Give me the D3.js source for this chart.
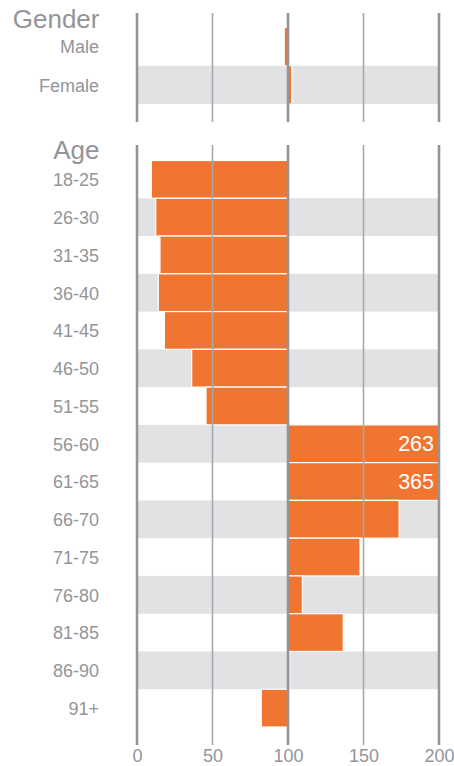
<!DOCTYPE html>
<html><head><meta charset="utf-8">
<script src="https://cdn.jsdelivr.net/npm/d3@7"></script>
<style>body{margin:0;background:#fff}svg{display:block;font-family:"Liberation Sans",Arial,sans-serif}</style>
</head><body><svg id="c" width="454" height="766"></svg>
<script>
const genderCats = ["Male","Female"];
const genderVals = [97.5,102.5];
const ageCats = ["18-25","26-30","31-35","36-40","41-45","46-50","51-55","56-60","61-65","66-70","71-75","76-80","81-85","86-90","91+"];
const ageVals = [9.5,12.4,15.2,14.1,18.1,36.2,45.7,263,365,173.6,147.7,109.5,136.6,101.2,82.3];
const ticks = [0,50,100,150,200];
const baseline = 100;

const svg = d3.select("#c");
const x = d3.scaleLinear().domain([0,200]).range([137,439]);
const orange = "#f07530", band = "#e1e2e4", text = "#939598";

function panel(title, cats, vals, yRange, gridRange, titleY){
  const y = d3.scaleBand().domain(cats).range(yRange);
  const g = svg.append("g");
  g.selectAll("rect.band").data(cats.filter((d,i)=>i%2===1)).join("rect")
    .attr("x",x(0)).attr("width",x(200)-x(0))
    .attr("y",d=>y(d)).attr("height",y.bandwidth()).attr("fill",band);
  g.selectAll("rect.bar").data(cats).join("rect")
    .attr("x",(d,i)=>x(Math.min(baseline,Math.min(vals[i],200))))
    .attr("width",(d,i)=>Math.abs(x(Math.min(vals[i],200))-x(baseline)))
    .attr("y",d=>y(d)).attr("height",y.bandwidth())
    .attr("fill",orange).attr("stroke","#fff").attr("stroke-width",1.2);
  g.selectAll("line.grid").data(ticks).join("line")
    .attr("x1",d=>x(d)).attr("x2",d=>x(d))
    .attr("y1",gridRange[0]).attr("y2",gridRange[1])
    .attr("stroke",d=>d%100===0?"#939598":"#a7a9ac")
    .attr("stroke-width",d=>d%100===0?2.6:1.6);
  g.selectAll("text.cat").data(cats).join("text")
    .attr("x",99).attr("y",d=>y(d)+y.bandwidth()/2).attr("dy","0.38em")
    .attr("text-anchor","end").attr("fill",text).attr("font-size",18).text(d=>d);
  g.selectAll("text.val").data(cats.filter((d,i)=>vals[i]>200)).join("text")
    .attr("x",434).attr("y",d=>y(d)+y.bandwidth()/2).attr("dy","0.36em")
    .attr("text-anchor","end").attr("fill","#fff").attr("font-size",21.5)
    .text(d=>vals[cats.indexOf(d)]);
  g.append("text").attr("x",99.5).attr("y",titleY).attr("text-anchor","end")
    .attr("fill",text).attr("font-size",26).text(title);
}
panel("Gender",genderCats,genderVals,[27.5,104],[13,122],27.5);
panel("Age",ageCats,ageVals,[160.5,727],[145,745],159);

const axis = d3.axisBottom(x).tickValues(ticks).tickSize(0).tickPadding(0);
const ax = svg.append("g").attr("transform","translate(0,749.5)").call(axis);
ax.select(".domain").remove();
ax.selectAll("text").attr("fill",text).attr("font-size",18)
  .attr("font-family","'Liberation Sans',Arial,sans-serif").attr("dy","0.71em");
</script></body></html>
